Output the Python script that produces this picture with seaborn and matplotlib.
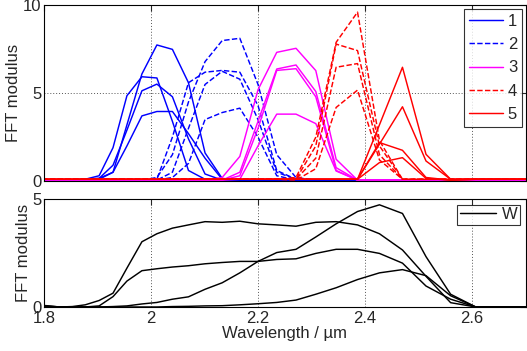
import matplotlib
matplotlib.use("Agg")
import matplotlib.pyplot as plt
import seaborn as sns
import pandas as pd
from matplotlib.lines import Line2D

# wavelength samples (um), shared by every trace
wavelength = [1.782, 1.805, 1.829, 1.853, 1.877, 1.903, 1.929, 1.955, 1.983, 2.011,
              2.040, 2.070, 2.101, 2.133, 2.166, 2.200, 2.235, 2.271, 2.308, 2.346,
              2.386, 2.427, 2.470, 2.514, 2.560, 2.607, 2.656, 2.707]

# top panel: FFT modulus, 4 traces per group
group1 = [
    [0.05, 0.05, 0.05, 0.05, 0.1, 0.15, 0.5, 3.2, 6.1, 7.75, 7.5, 5.6, 1.6, 0.15, 0.05, 0.05, 0.05, 0.05, 0.05, 0.05, 0.05, 0.05, 0.05, 0.05, 0.05, 0.05, 0.05, 0.05],
    [0.05, 0.05, 0.05, 0.05, 0.1, 0.3, 1.9, 4.86, 5.94, 5.87, 3.4, 0.6, 0.1, 0.05, 0.05, 0.05, 0.05, 0.05, 0.05, 0.05, 0.05, 0.05, 0.05, 0.05, 0.05, 0.05, 0.05, 0.05],
    [0.05, 0.05, 0.05, 0.05, 0.1, 0.15, 0.9, 2.9, 5.14, 5.52, 4.8, 2.4, 0.4, 0.05, 0.05, 0.05, 0.05, 0.05, 0.05, 0.05, 0.05, 0.05, 0.05, 0.05, 0.05, 0.05, 0.05, 0.05],
    [0.05, 0.05, 0.05, 0.05, 0.05, 0.1, 0.5, 2.0, 3.71, 3.96, 3.96, 2.7, 1.3, 0.1, 0.05, 0.05, 0.05, 0.05, 0.05, 0.05, 0.05, 0.05, 0.05, 0.05, 0.05, 0.05, 0.05, 0.05],
]
group2 = [
    [0.05, 0.05, 0.05, 0.05, 0.05, 0.05, 0.05, 0.05, 0.05, 0.2, 1.5, 4.5, 6.8, 8.0, 8.13, 5.5, 1.5, 0.2, 0.05, 0.05, 0.05, 0.05, 0.05, 0.05, 0.05, 0.05, 0.05, 0.05],
    [0.05, 0.05, 0.05, 0.05, 0.05, 0.05, 0.05, 0.05, 0.05, 0.1, 2.5, 5.6, 6.2, 6.3, 6.2, 4.3, 0.6, 0.1, 0.05, 0.05, 0.05, 0.05, 0.05, 0.05, 0.05, 0.05, 0.05, 0.05],
    [0.05, 0.05, 0.05, 0.05, 0.05, 0.05, 0.05, 0.05, 0.05, 0.05, 0.5, 3.0, 5.5, 6.25, 5.8, 3.5, 0.5, 0.1, 0.05, 0.05, 0.05, 0.05, 0.05, 0.05, 0.05, 0.05, 0.05, 0.05],
    [0.05, 0.05, 0.05, 0.05, 0.05, 0.05, 0.05, 0.05, 0.05, 0.05, 0.2, 1.0, 3.5, 3.9, 4.15, 2.5, 0.3, 0.05, 0.05, 0.05, 0.05, 0.05, 0.05, 0.05, 0.05, 0.05, 0.05, 0.05],
]
group3 = [
    [0.05, 0.05, 0.05, 0.05, 0.05, 0.05, 0.05, 0.05, 0.05, 0.05, 0.05, 0.05, 0.05, 0.2, 1.4, 5.2, 7.33, 7.56, 6.29, 1.24, 0.05, 0.05, 0.05, 0.05, 0.05, 0.05, 0.05, 0.05],
    [0.05, 0.05, 0.05, 0.05, 0.05, 0.05, 0.05, 0.05, 0.05, 0.05, 0.05, 0.05, 0.05, 0.05, 0.5, 3.4, 6.38, 6.61, 5.1, 0.76, 0.05, 0.05, 0.05, 0.05, 0.05, 0.05, 0.05, 0.05],
    [0.05, 0.05, 0.05, 0.05, 0.05, 0.05, 0.05, 0.05, 0.05, 0.05, 0.05, 0.05, 0.05, 0.05, 0.3, 3.0, 6.3, 6.4, 4.8, 0.6, 0.05, 0.05, 0.05, 0.05, 0.05, 0.05, 0.05, 0.05],
    [0.05, 0.05, 0.05, 0.05, 0.05, 0.05, 0.05, 0.05, 0.05, 0.05, 0.05, 0.05, 0.05, 0.05, 0.1, 2.0, 3.81, 3.81, 3.27, 0.57, 0.05, 0.05, 0.05, 0.05, 0.05, 0.05, 0.05, 0.05],
]
group4 = [
    [0.1, 0.1, 0.1, 0.1, 0.1, 0.1, 0.1, 0.1, 0.1, 0.1, 0.1, 0.1, 0.1, 0.1, 0.1, 0.1, 0.1, 0.2, 2.5, 7.9, 9.62, 2.3, 0.1, 0.1, 0.1, 0.1, 0.1, 0.1],
    [0.1, 0.1, 0.1, 0.1, 0.1, 0.1, 0.1, 0.1, 0.1, 0.1, 0.1, 0.1, 0.1, 0.1, 0.1, 0.1, 0.1, 0.1, 2.0, 7.8, 7.43, 2.0, 0.1, 0.1, 0.1, 0.1, 0.1, 0.1],
    [0.1, 0.1, 0.1, 0.1, 0.1, 0.1, 0.1, 0.1, 0.1, 0.1, 0.1, 0.1, 0.1, 0.1, 0.1, 0.1, 0.1, 0.1, 1.3, 6.48, 6.69, 1.5, 0.1, 0.1, 0.1, 0.1, 0.1, 0.1],
    [0.1, 0.1, 0.1, 0.1, 0.1, 0.1, 0.1, 0.1, 0.1, 0.1, 0.1, 0.1, 0.1, 0.1, 0.1, 0.1, 0.1, 0.05, 0.7, 4.19, 5.18, 1.2, 0.1, 0.1, 0.1, 0.1, 0.1, 0.1],
]
group5 = [
    [0.1, 0.1, 0.1, 0.1, 0.1, 0.1, 0.1, 0.1, 0.1, 0.1, 0.1, 0.1, 0.1, 0.1, 0.1, 0.1, 0.1, 0.1, 0.1, 0.1, 0.1, 3.2, 6.48, 1.52, 0.1, 0.1, 0.1, 0.1],
    [0.1, 0.1, 0.1, 0.1, 0.1, 0.1, 0.1, 0.1, 0.1, 0.1, 0.1, 0.1, 0.1, 0.1, 0.1, 0.1, 0.1, 0.1, 0.1, 0.1, 0.1, 2.1, 4.23, 1.14, 0.1, 0.1, 0.1, 0.1],
    [0.1, 0.1, 0.1, 0.1, 0.1, 0.1, 0.1, 0.1, 0.1, 0.1, 0.1, 0.1, 0.1, 0.1, 0.1, 0.1, 0.1, 0.1, 0.1, 0.1, 0.1, 2.19, 1.75, 0.2, 0.05, 0.1, 0.1, 0.1],
    [0.1, 0.1, 0.1, 0.1, 0.1, 0.1, 0.1, 0.1, 0.1, 0.1, 0.1, 0.1, 0.1, 0.1, 0.1, 0.1, 0.1, 0.1, 0.1, 0.1, 0.1, 1.05, 1.33, 0.15, 0.05, 0.1, 0.1, 0.1],
]

# bottom panel: W traces
w_traces = [
    [0.1, 0.06, 0.0, 0.02, 0.1, 0.3, 0.64, 1.8, 3.02, 3.39, 3.65, 3.8, 3.95, 3.92, 3.97, 3.85, 3.8, 3.74, 3.92, 3.95, 3.8, 3.39, 2.64, 1.42, 0.2, 0.0, 0.0, 0.0],
    [0.1, 0.05, 0.0, 0.0, 0.0, 0.05, 0.48, 1.2, 1.68, 1.77, 1.85, 1.91, 2.0, 2.06, 2.11, 2.11, 2.2, 2.23, 2.48, 2.67, 2.67, 2.48, 2.03, 0.97, 0.36, 0.0, 0.0, 0.0],
    [0.0, 0.0, 0.0, 0.0, 0.0, 0.0, 0.02, 0.05, 0.14, 0.21, 0.36, 0.47, 0.82, 1.12, 1.58, 2.11, 2.52, 2.67, 3.24, 3.85, 4.42, 4.73, 4.33, 2.33, 0.59, 0.0, 0.0, 0.0],
    [0.0, 0.0, 0.0, 0.0, 0.0, 0.0, 0.0, 0.0, 0.0, 0.0, 0.02, 0.03, 0.05, 0.06, 0.1, 0.15, 0.21, 0.32, 0.59, 0.89, 1.27, 1.58, 1.73, 1.45, 0.52, 0.0, 0.0, 0.0],
]

group_labels = ["1", "2", "3", "4", "5"]
group_colors = ["#0000ff", "#0000ff", "#ff00ff", "#ff0000", "#ff0000"]
group_styles = ["-", "--", "-", "--", "-"]

sns.set_style("white")
plt.rcParams["font.family"] = ["Liberation Sans", "DejaVu Sans"]
plt.rcParams["font.size"] = 12

fig = plt.figure(figsize=(5.27, 3.51), dpi=100)
ax1 = fig.add_axes([0.0835, 0.4843, 0.9137, 0.5001])
ax2 = fig.add_axes([0.0835, 0.1254, 0.9137, 0.3077])

# top panel
groups = [group1, group2, group3, group4, group5]
for g, traces in enumerate(groups):
    rows = []
    for t, vals in enumerate(traces):
        for x, y in zip(wavelength, vals):
            rows.append({"wavelength": x, "fft": y, "trace": t})
    df = pd.DataFrame(rows)
    sns.lineplot(data=df, x="wavelength", y="fft", units="trace", estimator=None,
                 color=group_colors[g], linestyle=group_styles[g], lw=1.05, ax=ax1,
                 legend=False)

# bottom panel
rows = []
for t, vals in enumerate(w_traces):
    for x, y in zip(wavelength, vals):
        rows.append({"wavelength": x, "fft": y, "trace": t})
wdf = pd.DataFrame(rows)
sns.lineplot(data=wdf, x="wavelength", y="fft", units="trace", estimator=None,
             color="black", lw=1.05, ax=ax2, legend=False)

for ax in (ax1, ax2):
    ax.set_xlim(1.8, 2.7)
    ax.set_xticks([1.8, 2.0, 2.2, 2.4, 2.6])
    ax.grid(True, linestyle=(0, (1, 2)), color="#555555", lw=0.7)
    ax.tick_params(direction="in", length=4, top=True, right=True, labelsize=12, pad=2)
    for s in ax.spines.values():
        s.set_color("black")
        s.set_linewidth(0.8)
    ax.set_ylabel("FFT modulus", fontsize=12, labelpad=1)

ax1.set_ylim(0, 10)
ax1.set_yticks([0, 5, 10])
ax1.set_xticklabels([])
ax1.set_xlabel("")

ax2.set_ylim(0, 5)
ax2.set_yticks([0, 5])
ax2.set_xticklabels(["1.8", "2", "2.2", "2.4", "2.6"])
ax2.tick_params(axis="x", pad=3)
ax2.set_xlabel("Wavelength / \u00b5m", fontsize=12, labelpad=0)

handles = [Line2D([], [], color=c, linestyle=s, lw=1.05) for c, s in zip(group_colors, group_styles)]
leg1 = ax1.legend(handles, group_labels, loc="upper right", frameon=True, fancybox=False,
                  edgecolor="black", fontsize=12, handlelength=2.0, borderaxespad=0.2,
                  labelspacing=0.5, handletextpad=0.3, borderpad=0.3)
leg1.get_frame().set_linewidth(0.8)
leg2 = ax2.legend([Line2D([], [], color="black", lw=1.05)], ["W"], loc="upper right",
                  frameon=True, fancybox=False, edgecolor="black", fontsize=12,
                  handlelength=2.2, borderaxespad=0.35, handletextpad=0.3, borderpad=0.15)
leg2.get_frame().set_linewidth(0.8)

fig.savefig("out.png", dpi=100)
